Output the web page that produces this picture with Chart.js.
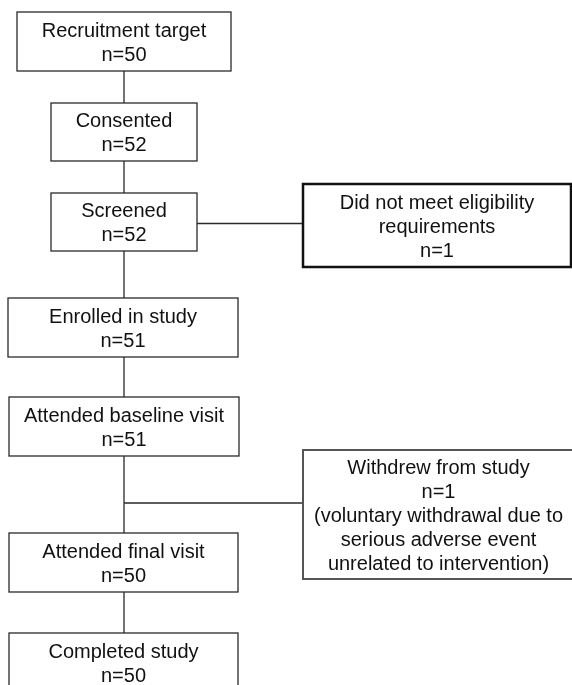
<!DOCTYPE html>
<html>
<head>
<meta charset="utf-8">
<script src="https://cdn.jsdelivr.net/npm/chart.js@4"></script>
<style>
  html, body { margin: 0; padding: 0; background: #ffffff; }
  #wrap { width: 572px; height: 685px; position: relative; }
</style>
</head>
<body>
<div id="wrap"><canvas id="c"></canvas></div>
<script>
// ---- data ----
const stageLabels = ['Recruitment target', 'Consented', 'Screened', 'Enrolled in study',
                     'Attended baseline visit', 'Attended final visit', 'Completed study'];
const stageCounts = [50, 52, 52, 51, 51, 50, 50];
const exclusionLabels = [['Did not meet eligibility', 'requirements'], ['Withdrew from study']];
const exclusionCounts = [1, 1];
const exclusionNotes = [[], ['(voluntary withdrawal due to', 'serious adverse event', 'unrelated to intervention)']];

// ---- layout (axis units) ----
const stageBoxes = [ // [left, top, right, bottom]
  [17, 12, 231, 71],
  [51, 103, 197, 161],
  [51, 193, 197, 251],
  [8, 298, 238, 357],
  [9, 397, 239, 456],
  [9, 533, 238, 592],
  [9, 633, 238, 705]
];
const exclusionBoxes = [
  [303, 184, 571, 267],
  [303, 450, 574, 579]
];
const exclusionBranch = [ // [fromX, y]
  [197, 223.5],
  [124, 503]
];
const spineX = 124;

const flowPlugin = {
  id: 'flow',
  afterDraw(chart) {
    const ctx = chart.ctx;
    const xs = chart.scales.x, ys = chart.scales.y;
    const X = v => xs.getPixelForValue(v);
    const Y = v => ys.getPixelForValue(v);
    const FONT = '20px "Liberation Sans", Arial, sans-serif';
    const LH = 24;
    ctx.save();
    // connectors
    ctx.strokeStyle = '#2a2a2a';
    ctx.lineWidth = 1.3;
    ctx.beginPath();
    for (let i = 0; i < stageBoxes.length - 1; i++) {
      ctx.moveTo(X(spineX), Y(stageBoxes[i][3]));
      ctx.lineTo(X(spineX), Y(stageBoxes[i + 1][1]));
    }
    exclusionBranch.forEach((b, i) => {
      ctx.moveTo(X(b[0]), Y(b[1]));
      ctx.lineTo(X(exclusionBoxes[i][0]), Y(b[1]));
    });
    ctx.stroke();

    const frame = (box, lw, color) => {
      const l = X(box[0]), t = Y(box[1]), r = X(box[2]), b = Y(box[3]);
      ctx.fillStyle = '#ffffff';
      ctx.fillRect(l, t, r - l, b - t);
      ctx.strokeStyle = color;
      ctx.lineWidth = lw;
      ctx.strokeRect(l, t, r - l, b - t);
      return { l, t, r, b };
    };
    const text = (lines, cx, firstY) => {
      ctx.fillStyle = '#111111';
      ctx.font = FONT;
      ctx.textAlign = 'center';
      ctx.textBaseline = 'middle';
      lines.forEach((s, k) => ctx.fillText(s, cx, firstY + k * LH));
    };

    stageLabels.forEach((lab, i) => {
      const p = frame(stageBoxes[i], 1.3, '#2a2a2a');
      const lines = [lab, 'n=' + stageCounts[i]];
      const cx = (p.l + p.r) / 2;
      if (i === stageLabels.length - 1) {
        text(lines, cx, p.t + 19);
      } else {
        const cy = (p.t + p.b) / 2 + 1.5;
        text(lines, cx, cy - (lines.length - 1) * LH / 2);
      }
    });
    exclusionBoxes.forEach((box, i) => {
      const p = frame(box, i === 0 ? 2.5 : 2, i === 0 ? '#111111' : '#555555');
      const lines = exclusionLabels[i].concat(['n=' + exclusionCounts[i]], exclusionNotes[i]);
      const cy = (p.t + p.b) / 2 + 1.5;
      text(lines, (p.l + p.r) / 2, cy - (lines.length - 1) * LH / 2);
    });
    ctx.restore();
  }
};

new Chart(document.getElementById('c'), {
  type: 'scatter',
  data: { datasets: [{ data: [], pointRadius: 0 }] },
  options: {
    responsive: true,
    maintainAspectRatio: false,
    animation: false,
    layout: { padding: 0 },
    plugins: { legend: { display: false }, tooltip: { enabled: false } },
    scales: {
      x: { type: 'linear', min: 0, max: 572, display: false },
      y: { type: 'linear', min: 0, max: 685, reverse: true, display: false }
    }
  },
  plugins: [flowPlugin]
});
</script>
</body>
</html>
